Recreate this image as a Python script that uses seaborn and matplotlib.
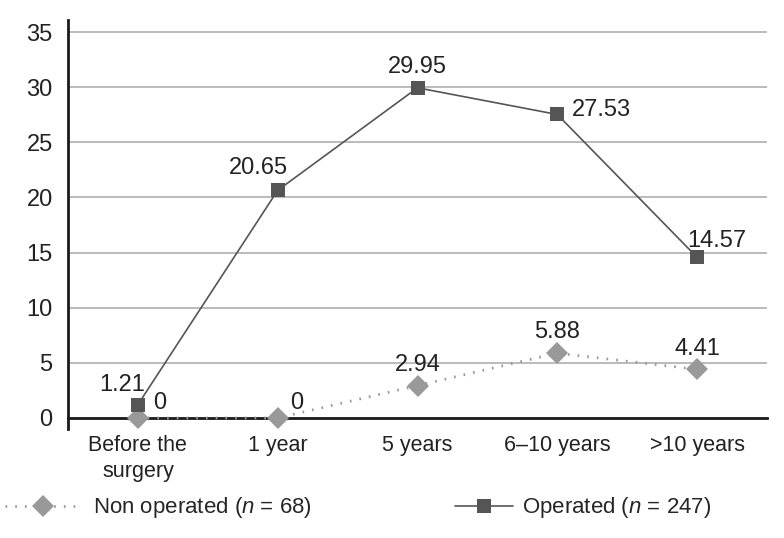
import numpy as np
import pandas as pd
import seaborn as sns
import matplotlib.pyplot as plt

# Chart data
categories = ["Before the\nsurgery", "1 year", "5 years", "6\u201310 years", ">10 years"]
operated = [1.21, 20.65, 29.95, 27.53, 14.57]
non_operated = [0, 0, 2.94, 5.88, 4.41]
y_ticks = [0, 5, 10, 15, 20, 25, 30, 35]


def main():
    sns.set_style("white")
    plt.rcParams['font.family'] = ['Liberation Sans', 'DejaVu Sans']
    plt.rcParams['mathtext.fontset'] = 'custom'
    plt.rcParams['mathtext.it'] = 'Liberation Sans:italic'
    plt.rcParams['mathtext.rm'] = 'Liberation Sans'

    pos = np.arange(len(categories))
    df_op = pd.DataFrame({'x': pos, 'y': operated})
    df_non = pd.DataFrame({'x': pos, 'y': non_operated})

    fig = plt.figure(figsize=(7.84, 5.38), dpi=100)
    ax = fig.add_axes([68 / 784, 1 - 429 / 538, (767 - 68) / 784, (429 - 20) / 538])

    # grid lines
    for t in y_ticks[1:]:
        ax.axhline(t, color='#bbbbbb', lw=1.4, zorder=0)

    sns.lineplot(data=df_non, x='x', y='y', ax=ax, color='#999999', lw=2,
                 linestyle=(0, (0.6, 2.9)), marker='D', markersize=11,
                 markeredgewidth=0, zorder=3, label='_nolegend_')
    sns.lineplot(data=df_op, x='x', y='y', ax=ax, color='#555555', lw=1.2,
                 marker='s', markersize=10.5, markeredgewidth=0, zorder=4,
                 label='_nolegend_')

    ax.set_xlim(-0.5, len(categories) - 0.5)
    ax.set_ylim(-1, 36.1)
    ax.set_xlabel('')
    ax.set_ylabel('')

    ax.spines['top'].set_visible(False)
    ax.spines['right'].set_visible(False)
    ax.spines['bottom'].set_position(('data', 0))
    for s in ['left', 'bottom']:
        ax.spines[s].set_color('#1a1a1a')
        ax.spines[s].set_linewidth(2)

    ax.set_yticks(y_ticks)
    ax.set_yticklabels([str(t) for t in y_ticks], fontsize=17, color='#222222')
    ax.tick_params(axis='y', length=9, width=1.4, color='#bbbbbb', pad=2)

    ax.set_xticks(pos)
    ax.set_xticklabels(categories, fontsize=15.5, color='#222222', linespacing=1.35)
    ax.set_xticks(np.arange(-0.5, len(categories), 1.0), minor=True)
    ax.tick_params(axis='x', which='major', length=0, pad=12)
    ax.tick_params(axis='x', which='minor', length=9, width=2, color='#1a1a1a',
                   direction='out')

    # data labels (offsets in points)
    op_offsets = [(-11, 14), (-14, 16), (0, 15), (32, 3), (14, 12)]
    non_offsets = [(16, 11), (14, 11), (0, 15), (0, 15), (0, 15)]
    for i, v in enumerate(operated):
        ax.annotate(f"{v:g}", (pos[i], v), xytext=op_offsets[i],
                    textcoords='offset points', ha='center', va='center',
                    fontsize=17, color='#222222')
    for i, v in enumerate(non_operated):
        ax.annotate(f"{v:g}", (pos[i], v), xytext=non_offsets[i],
                    textcoords='offset points', ha='center', va='center',
                    fontsize=17, color='#222222')

    # legends
    h_non = plt.Line2D([], [], color='#999999', lw=2, linestyle=(0, (0.6, 2.9)),
                       marker='D', markersize=11, markeredgewidth=0)
    h_op = plt.Line2D([], [], color='#555555', lw=1.2, marker='s',
                      markersize=10.5, markeredgewidth=0)
    fig.legend([h_non], ['Non operated ($n$ = 68)'], loc='center left',
               bbox_to_anchor=(5 / 784, 1 - 508 / 538), frameon=False,
               fontsize=16, handlelength=3.4, handletextpad=0.55,
               borderaxespad=0, borderpad=0)
    fig.legend([h_op], ['Operated ($n$ = 247)'], loc='center left',
               bbox_to_anchor=(455 / 784, 1 - 508 / 538), frameon=False,
               fontsize=16, handlelength=2.6, handletextpad=0.4,
               borderaxespad=0, borderpad=0)

    fig.savefig('out.png', dpi=100)


if __name__ == "__main__":
    main()
